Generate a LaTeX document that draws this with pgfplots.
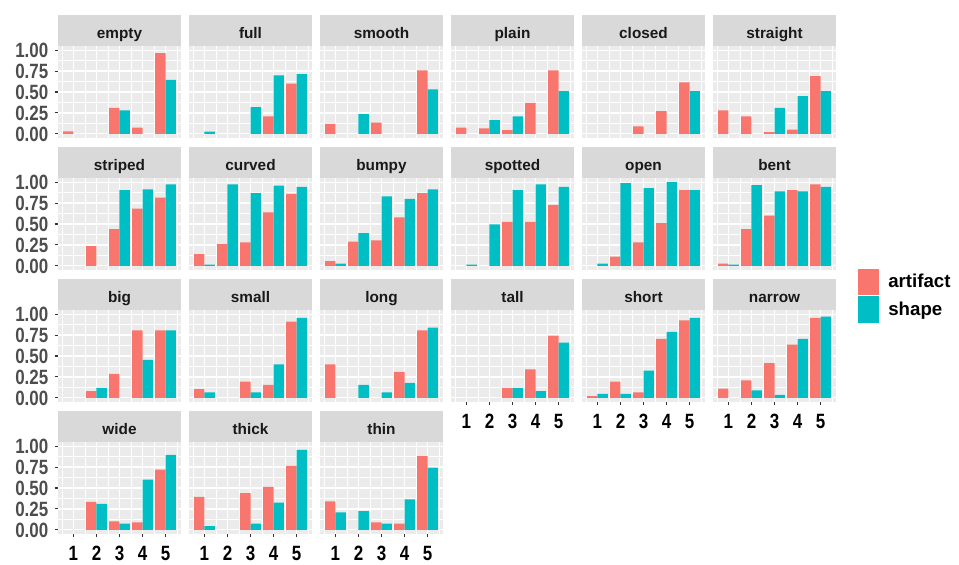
\documentclass[border=0pt]{standalone}
\usepackage{pgfplots}
\pgfplotsset{compat=1.18}
\usepackage{fontspec}
\setmainfont{Liberation Sans}
\newfontfamily\narrowfont{Liberation Sans}[FakeStretch=0.82]
\definecolor{artcol}{HTML}{F8766D}
\definecolor{shpcol}{HTML}{00BFC4}
\definecolor{ggbg}{HTML}{EBEBEB}
\definecolor{stripbg}{HTML}{D9D9D9}
\definecolor{gg30}{HTML}{4D4D4D}
\definecolor{gg20}{HTML}{333333}
\newcommand{\ticfont}{\narrowfont\bfseries\fontsize{15.5}{16}\selectfont}
\newcommand{\stripfont}{\bfseries\fontsize{11.5}{12}\selectfont}
\newcommand{\legfont}{\bfseries\fontsize{14}{15}\selectfont}
\pgfplotsset{
  panel/.style={
    scale only axis, width=92.25pt, height=69pt,
    xmin=0.33, xmax=5.67, ymin=-0.05, ymax=1.05,
    axis background/.style={fill=ggbg},
    axis line style={draw=none},
    xtick={1,2,3,4,5}, ytick={0,0.25,0.5,0.75,1},
    minor xtick={0.5,1.5,2.5,3.5,4.5,5.5},
    minor ytick={0.125,0.375,0.625,0.875},
    grid=both,
    major grid style={white, line width=0.95pt},
    minor grid style={white, line width=0.45pt},
    tick align=outside, major tick length=2.6pt, minor tick length=0pt,
    xtick pos=bottom, ytick pos=left,
    xticklabels={}, yticklabels={},
    xtick style={draw=none}, ytick style={draw=none},
    every axis title/.style={at={(0.5,1)}, anchor=south, fill=stripbg,
      minimum width=92.25pt, minimum height=23.25pt, inner sep=0pt,
      text height=12pt, text depth=0pt, text=black!90, font=\stripfont},
  },
  ylab/.style={yticklabels={0.00,0.25,0.50,0.75,1.00},
    ytick style={draw=gg20, line width=0.8pt},
    yticklabel style={font=\ticfont, text=gg30, inner sep=0pt, anchor=east,
      text height=11.2pt, text depth=0pt, xshift=-4.5pt}},
  xlab/.style={xticklabels={1,2,3,4,5},
    xtick style={draw=gg20, line width=0.8pt},
    xticklabel style={font=\ticfont, text=black, inner sep=0pt, anchor=base,
      yshift=-17.2pt}},
  artbar/.style={ybar, bar width=0.45, bar shift=-0.225, fill=artcol, draw=none,
    legend image code/.code={\fill[artcol] (0pt,-10pt) rectangle (15.75pt,10pt);}},
  shpbar/.style={ybar, bar width=0.45, bar shift=0.225, fill=shpcol, draw=none,
    legend image code/.code={\fill[shpcol] (0pt,-10pt) rectangle (15.75pt,10pt);}},
}
% #1 x (pt), #2 y (pt), #3 name, #4 artifact, #5 shape, #6 options
\newcommand{\panel}[6]{%
\begin{axis}[panel, at={(#1pt,-#2pt)}, anchor=north west, title={#3}, #6]
\addplot[artbar] coordinates {#4};
\addplot[shpbar] coordinates {#5};
\end{axis}}
\begin{document}
\begin{tikzpicture}
\useasboundingbox (0,0) rectangle (719.25pt,-423pt);
% row 1
\panel{43.5}{34.5}{empty}{(1,0.03) (3,0.31) (4,0.075) (5,0.965)}{(3,0.28) (5,0.645)}{ylab}
\panel{141.75}{34.5}{full}{(4,0.21) (5,0.60)}{(1,0.025) (3,0.32) (4,0.70) (5,0.715)}{}
\panel{240}{34.5}{smooth}{(1,0.12) (3,0.135) (5,0.76)}{(2,0.235) (5,0.53)}{}
\panel{338.25}{34.5}{plain}{(1,0.075) (2,0.065) (3,0.045) (4,0.37) (5,0.76)}{(2,0.165) (3,0.21) (5,0.51)}{}
\panel{436.5}{34.5}{closed}{(3,0.09) (4,0.27) (5,0.615)}{(5,0.51)}{}
\panel{534.75}{34.5}{straight}{(1,0.28) (2,0.21) (3,0.02) (4,0.05) (5,0.69)}{(3,0.31) (4,0.45) (5,0.51)}{}
% row 2
\panel{43.5}{133.5}{striped}{(2,0.235) (3,0.44) (4,0.685) (5,0.815)}{(3,0.905) (4,0.915) (5,0.975)}{ylab}
\panel{141.75}{133.5}{curved}{(1,0.14) (2,0.26) (3,0.28) (4,0.64) (5,0.86)}{(1,0.015) (2,0.975) (3,0.87) (4,0.96) (5,0.945)}{}
\panel{240}{133.5}{bumpy}{(1,0.055) (2,0.29) (3,0.305) (4,0.58) (5,0.87)}{(1,0.025) (2,0.39) (3,0.83) (4,0.80) (5,0.915)}{}
\panel{338.25}{133.5}{spotted}{(3,0.525) (4,0.525) (5,0.73)}{(1,0.015) (2,0.495) (3,0.905) (4,0.975) (5,0.945)}{}
\panel{436.5}{133.5}{open}{(2,0.11) (3,0.28) (4,0.51) (5,0.905)}{(1,0.025) (2,0.99) (3,0.93) (4,1.0) (5,0.905)}{}
\panel{534.75}{133.5}{bent}{(1,0.025) (2,0.44) (3,0.60) (4,0.905) (5,0.975)}{(1,0.015) (2,0.965) (3,0.89) (4,0.89) (5,0.945)}{}
% row 3
\panel{43.5}{232.5}{big}{(2,0.08) (3,0.285) (4,0.805) (5,0.805)}{(2,0.12) (4,0.455) (5,0.805)}{ylab}
\panel{141.75}{232.5}{small}{(1,0.105) (3,0.195) (4,0.155) (5,0.91)}{(1,0.065) (3,0.065) (4,0.40) (5,0.955)}{}
\panel{240}{232.5}{long}{(1,0.40) (4,0.31) (5,0.805)}{(2,0.155) (3,0.065) (4,0.18) (5,0.84)}{}
\panel{338.25}{232.5}{tall}{(3,0.12) (4,0.34) (5,0.745)}{(3,0.12) (4,0.08) (5,0.66)}{xlab}
\panel{436.5}{232.5}{short}{(1,0.02) (2,0.195) (3,0.065) (4,0.705) (5,0.925)}{(1,0.048) (2,0.048) (3,0.325) (4,0.79) (5,0.955)}{xlab}
\panel{534.75}{232.5}{narrow}{(1,0.11) (2,0.21) (3,0.415) (4,0.635) (5,0.955)}{(2,0.09) (3,0.035) (4,0.705) (5,0.97)}{xlab,
  legend entries={artifact,shape},
  legend style={at={(1.179,1.45)}, anchor=north west, draw=none, fill=none,
    inner sep=0pt, outer sep=0pt, row sep=0.75pt, font=\legfont,
    nodes={inner sep=0pt}, /tikz/every odd column/.style={column sep=7pt}},
  legend cell align=left}
% row 4
\panel{43.5}{331.5}{wide}{(2,0.335) (3,0.10) (4,0.09) (5,0.72)}{(2,0.31) (3,0.075) (4,0.60) (5,0.895)}{ylab,xlab}
\panel{141.75}{331.5}{thick}{(1,0.395) (3,0.44) (4,0.515) (5,0.765)}{(1,0.045) (3,0.075) (4,0.325) (5,0.955)}{xlab}
\panel{240}{331.5}{thin}{(1,0.34) (3,0.09) (4,0.075) (5,0.88)}{(1,0.21) (2,0.225) (3,0.075) (4,0.365) (5,0.745)}{xlab}
\end{tikzpicture}
\end{document}
